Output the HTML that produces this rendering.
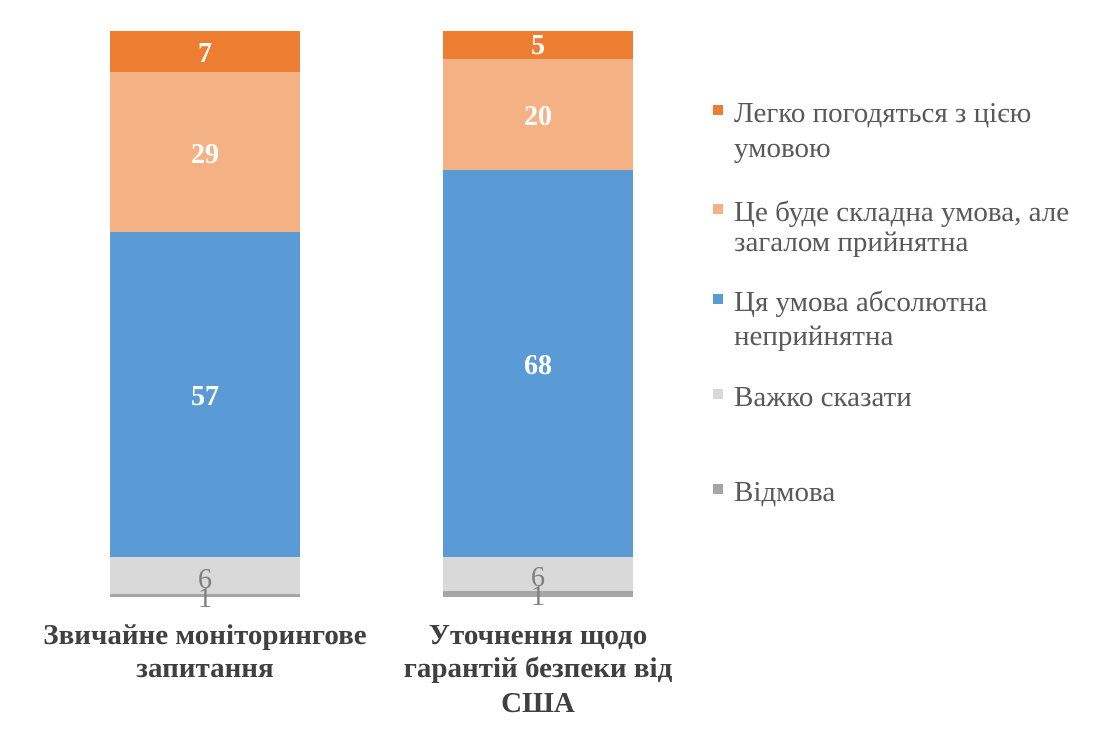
<!DOCTYPE html>
<html><head><meta charset="utf-8"><style>body{margin:0;background:#fff}</style></head><body>
<svg width="1115" height="738" xmlns="http://www.w3.org/2000/svg" font-family="Liberation Serif, serif">
<rect x="110" y="31" width="190" height="41" fill="#ED7D31"/>
<rect x="110" y="72" width="190" height="160" fill="#F4B183"/>
<rect x="110" y="232" width="190" height="325" fill="#5B9BD5"/>
<rect x="110" y="557" width="190" height="37" fill="#D9D9D9"/>
<rect x="110" y="594" width="190" height="3" fill="#A5A5A5"/>
<rect x="443" y="31" width="190" height="28" fill="#ED7D31"/>
<rect x="443" y="59" width="190" height="111" fill="#F4B183"/>
<rect x="443" y="170" width="190" height="387" fill="#5B9BD5"/>
<rect x="443" y="557" width="190" height="34" fill="#D9D9D9"/>
<rect x="443" y="591" width="190" height="6" fill="#A5A5A5"/>
<g fill="#fff" font-weight="bold" font-size="28" text-anchor="middle">
<text x="205" y="62">7</text><text x="205" y="163">29</text><text x="205" y="405">57</text>
<text x="538" y="54">5</text><text x="538" y="125">20</text><text x="538" y="374">68</text>
</g>
<g fill="#7f7f7f" font-size="28" text-anchor="middle">
<text x="205" y="588">6</text><text x="205" y="607">1</text>
<text x="538" y="586">6</text><text x="538" y="605">1</text>
</g>
<g fill="#404040" font-weight="bold" font-size="29" text-anchor="middle">
<text x="205" y="644">Звичайне моніторингове</text><text x="205" y="677">запитання</text>
<text x="538" y="644">Уточнення щодо</text><text x="538" y="677">гарантій безпеки від</text><text x="538" y="712">США</text>
</g>
<rect x="713" y="105" width="10" height="10" fill="#ED7D31"/>
<rect x="713" y="204" width="10" height="10" fill="#F4B183"/>
<rect x="713" y="294" width="10" height="10" fill="#5B9BD5"/>
<rect x="713" y="389" width="10" height="10" fill="#D9D9D9"/>
<rect x="713" y="484" width="10" height="10" fill="#A5A5A5"/>
<g fill="#595959" font-size="29">
<text x="734" y="122">Легко погодяться з цією</text><text x="734" y="157">умовою</text>
<text x="734" y="221">Це буде складна умова, але</text><text x="734" y="251">загалом прийнятна</text>
<text x="734" y="311">Ця умова абсолютна</text><text x="734" y="345">неприйнятна</text>
<text x="734" y="406">Важко сказати</text>
<text x="734" y="501">Відмова</text>
</g>
</svg>
</body></html>
